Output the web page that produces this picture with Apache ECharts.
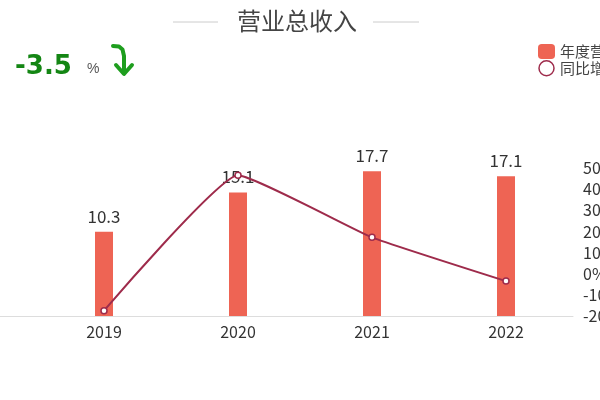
<!DOCTYPE html>
<html>
<head>
<meta charset="utf-8">
<script src="https://cdn.jsdelivr.net/npm/echarts@6/dist/echarts.min.js"></script>
<style>
  html, body { margin: 0; padding: 0; background: #fff; }
  #main { width: 600px; height: 400px; }
</style>
</head>
<body>
<div id="main"></div>
<script>
var years = ['2019', '2020', '2021', '2022'];
var revenue = [10.3, 15.1, 17.7, 17.1];
var growth = [-17.5, 46.6, 17.2, -3.5];
var latestGrowth = '-3.5';

var lineColor = '#9e2b4b';
var arrowStyle = {fill: null, stroke: '#1e9e1e', lineWidth: 4, lineCap: 'round', lineJoin: 'round'};
var myChart = echarts.init(document.getElementById('main'));
var option = {
    textStyle: {fontFamily: '"Noto Sans CJK SC", sans-serif'},
    graphic: [
        {type: 'line', shape: {x1: 173, y1: 22, x2: 218, y2: 22}, style: {stroke: '#ccc', lineWidth: 1}},
        {type: 'line', shape: {x1: 373, y1: 22, x2: 419, y2: 22}, style: {stroke: '#ccc', lineWidth: 1}},
        {type: 'text', x: 297, y: 21, style: {text: '营业总收入', fill: '#444', fontSize: 24, fontFamily: 'Noto Sans CJK SC', textAlign: 'center', textVerticalAlign: 'middle'}},
        {type: 'text', x: 15, y: 67, style: {text: latestGrowth, fill: '#148614', fontSize: 26, fontWeight: 'bold', fontFamily: 'DejaVu Sans', textVerticalAlign: 'middle'}},
        {type: 'text', x: 87, y: 69, style: {text: '%', fill: '#555', fontSize: 14, fontFamily: 'Liberation Sans Narrow, Liberation Sans', textVerticalAlign: 'middle'}},
        // down-turning arrow next to the growth figure
        {type: 'polyline', shape: {points: [[113, 46], [119, 46.5], [122.5, 49.5], [124, 56], [124, 73]]}, style: arrowStyle},
        {type: 'polyline', shape: {points: [[116, 65], [124, 74], [132, 65]]}, style: arrowStyle},
        {type: 'line', shape: {x1: 0, y1: 316.5, x2: 37, y2: 316.5}, style: {stroke: '#ddd', lineWidth: 1}}
    ],
    legend: {
        orient: 'vertical',
        left: 533,
        top: 39,
        itemWidth: 17,
        itemHeight: 15,
        itemGap: 1,
        textStyle: {fontSize: 15, color: '#444'},
        data: [
            {name: '年度营业总收入', icon: 'roundRect'},
            {name: '同比增长', icon: 'circle', itemStyle: {color: '#fff', borderColor: lineColor, borderWidth: 1.5}}
        ]
    },
    grid: {left: 37, right: 27, top: 168, bottom: 84, outerBoundsMode: 'none'},
    xAxis: {
        type: 'category',
        data: years,
        axisLine: {lineStyle: {color: '#ddd'}},
        axisTick: {show: false},
        axisLabel: {color: '#333', fontSize: 16, margin: 8}
    },
    yAxis: [{
        type: 'value',
        min: 0,
        max: 18.1,
        show: false,
        splitLine: {show: false}
    }, {
        type: 'value',
        position: 'right',
        min: -20,
        max: 50,
        interval: 10,
        axisLine: {show: false},
        axisTick: {show: false},
        splitLine: {show: false},
        axisLabel: {formatter: '{value}%', color: '#333', fontSize: 16, margin: 10}
    }],
    series: [{
        name: '年度营业总收入',
        type: 'bar',
        data: revenue,
        barWidth: 18,
        itemStyle: {color: '#ee6454'},
        label: {show: true, position: 'top', color: '#333', fontSize: 17, distance: 7}
    }, {
        name: '同比增长',
        type: 'line',
        yAxisIndex: 1,
        data: growth,
        smooth: 0.12,
        symbol: 'circle',
        symbolSize: 6,
        itemStyle: {color: '#fff', borderColor: lineColor, borderWidth: 1.5},
        lineStyle: {color: lineColor, width: 2},
        z: 3
    }]
};
myChart.setOption(option);
</script>
</body>
</html>
